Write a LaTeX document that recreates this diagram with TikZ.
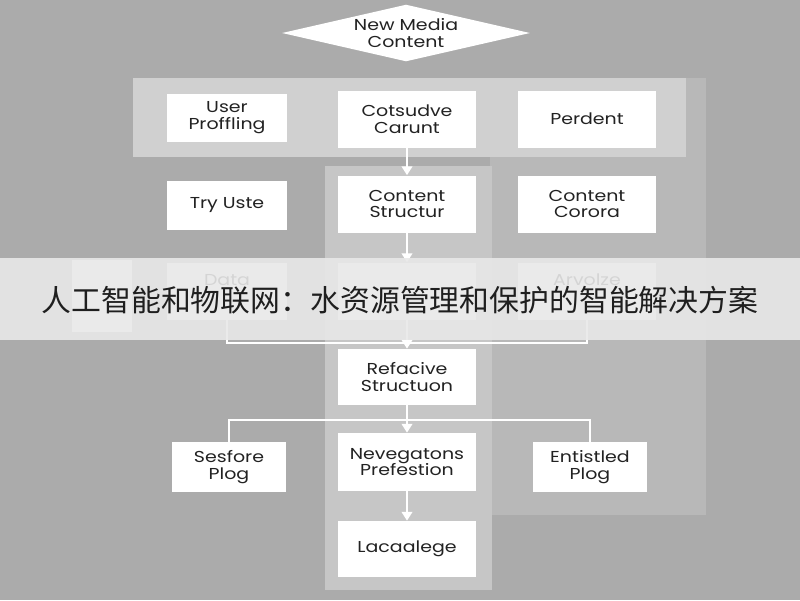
\documentclass[tikz,border=0pt]{standalone}
\usepackage{fontspec}
\setmainfont{Poppins}[FakeStretch=1.2]
\newfontfamily\cjkfont{Noto Sans CJK SC}
\usetikzlibrary{shapes.geometric,arrows.meta}

\definecolor{bggray}{HTML}{ABABAB}
\definecolor{regiongray}{HTML}{B8B8B8}
\definecolor{panelgray}{HTML}{D0D0D0}
\definecolor{columngray}{HTML}{C6C6C6}
\definecolor{bannergray}{HTML}{E8E8E8}
\definecolor{inkgray}{HTML}{222222}

\tikzset{
  box/.style={fill=white, align=center, inner sep=0pt, text=inkgray,
    font=\fontsize{9}{9.6}\selectfont},
  widebox/.style={box, minimum width=2.76cm, minimum height=1.14cm},
  sidebox/.style={box, minimum width=2.4cm, minimum height=0.98cm},
  lowbox/.style={box, minimum width=2.28cm, minimum height=1.0cm},
  link/.style={draw=white, line width=1.1pt},
  flow/.style={link, -{Triangle[width=6pt,length=5pt]}}
}

\begin{document}
\begin{tikzpicture}[x=0.02cm, y=-0.02cm]
    \useasboundingbox (0,0) rectangle (800,600);
    % backdrop
    \fill[bggray] (0,0) rectangle (800,600);
    \fill[regiongray] (490,78) rectangle (706,515);
    \fill[panelgray] (133,78) rectangle (686,157);
    \fill[columngray] (325,166) rectangle (492,590);

    \node[diamond, fill=white, shape aspect=3.75, minimum width=4.96cm, inner sep=0pt,
          align=center, text=inkgray, font=\fontsize{9}{9.6}\selectfont] (media) at (406,33) {New Media\\Content};

    % first row
    \node[sidebox, minimum height=0.96cm] (user) at (227,118) {User\\Proffling};
    \node[widebox] (cots) at (407,119) {Cotsudve\\Carunt};
    \node[widebox] (perdent) at (587,119) {Perdent};

    % second row
    \node[sidebox] (tryuse) at (227,205) {Try Uste};
    \node[widebox] (cstruct) at (407,204) {Content\\Structur};
    \node[widebox] (corora) at (587,204) {Content\\Corora};

    % third row (under the banner)
    \fill[white] (72,260) rectangle (132,332);
    \node[sidebox, minimum height=1.14cm] (data) at (227,291) {};
    \node[widebox] (mid) at (407,291) {};
    \node[widebox] (arvolze) at (587,291) {};
    \node[text=inkgray, font=\fontsize{9}{9.6}\selectfont] at (data.north) [yshift=-0.36cm] {Data};
    \node[text=inkgray, font=\fontsize{9}{9.6}\selectfont] at (arvolze.north) [yshift=-0.36cm] {Arvolze};

    \node[widebox, minimum height=1.12cm] (refactive) at (407,377) {Refacive\\Structuon};
    \node[widebox, minimum height=1.16cm] (neveg) at (407,462) {Nevegatons\\Prefestion};
    \node[lowbox] (sesfore) at (229,467) {Sesfore\\Plog};
    \node[lowbox] (entistled) at (590,467) {Entistled\\Plog};
    \node[widebox, minimum height=1.12cm] (lacaalege) at (407,549) {Lacaalege};

    \coordinate (join1) at (407,343);
    \coordinate (join2) at (407,420);

    \draw[flow] (cots) -- (cstruct);
    \draw[flow] (cstruct) -- (mid);
    \draw[link] (data.south) |- (join1);
    \draw[link] (arvolze.south) |- (join1);
    \draw[flow] (mid) -- (refactive);
    \draw[link] (refactive) -- (join2);
    \draw[link] (join2) -| (sesfore.north);
    \draw[link] (join2) -| (entistled.north);
    \draw[flow] (join2) -- (neveg);
    \draw[flow] (neveg) -- (lacaalege);

    % banner
    \fill[bannergray, opacity=0.9] (0,258) rectangle (800,340);
    \node[text=black!88, font=\cjkfont\fontsize{17}{17}\selectfont] (title) at (400,300)
        {人工智能和物联网：水资源管理和保护的智能解决方案};
\end{tikzpicture}
\end{document}
